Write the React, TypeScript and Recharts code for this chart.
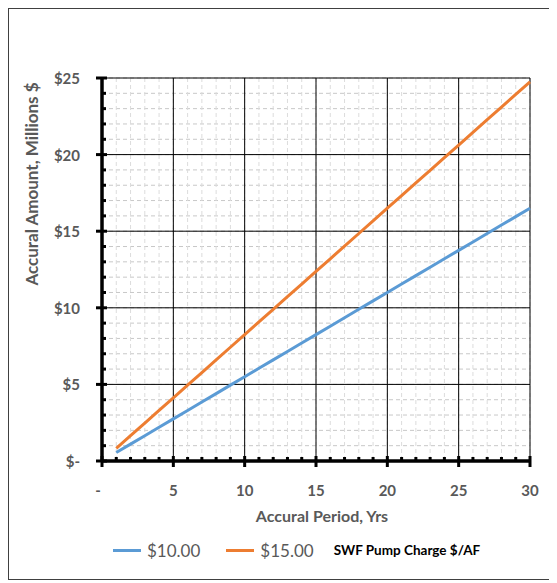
import React from 'react';
import { LineChart, Line, XAxis, YAxis, CartesianGrid, ReferenceLine } from 'recharts';

const years = [1, 2, 3, 4, 5, 6, 7, 8, 9, 10, 11, 12, 13, 14, 15, 16, 17, 18, 19, 20, 21, 22, 23, 24, 25, 26, 27, 28, 29, 30];
const series10 = [0.55, 1.1, 1.65, 2.2, 2.75, 3.3, 3.85, 4.4, 4.95, 5.5, 6.05, 6.6, 7.15, 7.7, 8.25, 8.8, 9.35, 9.9, 10.45, 11, 11.55, 12.1, 12.65, 13.2, 13.75, 14.3, 14.85, 15.4, 15.95, 16.5];
const series15 = [0.825, 1.65, 2.475, 3.3, 4.125, 4.95, 5.775, 6.6, 7.425, 8.25, 9.075, 9.9, 10.725, 11.55, 12.375, 13.2, 14.025, 14.85, 15.675, 16.5, 17.325, 18.15, 18.975, 19.8, 20.625, 21.45, 22.275, 23.1, 23.925, 24.75];
const xTicks = [0, 1, 2, 3, 4, 5, 6, 7, 8, 9, 10, 11, 12, 13, 14, 15, 16, 17, 18, 19, 20, 21, 22, 23, 24, 25, 26, 27, 28, 29, 30];
const yTicks = [0, 1, 2, 3, 4, 5, 6, 7, 8, 9, 10, 11, 12, 13, 14, 15, 16, 17, 18, 19, 20, 21, 22, 23, 24, 25];
const xMajor = [5, 10, 15, 20, 25, 30];
const yMajor = [5, 10, 15, 20, 25];
const seriesKeys = ['s10', 's15'];
const seriesNames = ['$10.00', '$15.00'];
const seriesColors = ['#5B9BD5', '#ED7D31'];
const legendTitle = 'SWF Pump Charge $/AF';
const xTitle = 'Accural Period, Yrs';
const yTitle = 'Accural Amount, Millions $';

const data = years.map((yr, i) => ({ year: yr, s10: series10[i], s15: series15[i] }));

const FONT = 'Lato, "Open Sans", sans-serif';
const GRAY = '#595959';

const XTick = (props: any) => {
  const { x, y, payload } = props;
  const v = payload.value;
  const major = v % 5 === 0;
  return (
    <g>
      {major ? (
        <line x1={x} x2={x} y1={y - 5} y2={y + 6} stroke="#000" strokeWidth={3} />
      ) : (
        <rect x={x - 1.5} y={y - 4} width={3} height={3} fill="#000" />
      )}
      {major && (
        <text x={v === 0 ? x - 4 : x} y={y + 29} textAnchor="middle" dominantBaseline="central"
          fontFamily={FONT} fontWeight={700} fontSize={15} fill={GRAY}>
          {v === 0 ? '-' : v}
        </text>
      )}
    </g>
  );
};

const YTick = (props: any) => {
  const { x, y, payload } = props;
  const v = payload.value;
  const major = v % 5 === 0;
  return (
    <g>
      {major ? (
        <line x1={x - 6} x2={x + 5} y1={y} y2={y} stroke="#000" strokeWidth={3} />
      ) : (
        <rect x={x + 1} y={y - 1.5} width={3} height={3} fill="#000" />
      )}
      {major && (
        <text x={x - 22} y={y} textAnchor="end" dominantBaseline="central"
          fontFamily={FONT} fontWeight={700} fontSize={15} fill={GRAY}>
          {v === 0 ? '$-' : '$' + v}
        </text>
      )}
    </g>
  );
};

export default function App() {
  return (
    <div style={{ position: 'relative', width: 545, height: 570, border: '1px solid #404040', background: '#fff' }}>
      <LineChart width={545} height={570} data={data} margin={{ top: 69, right: 24, bottom: 0, left: 0 }}>
        <CartesianGrid stroke="#c8c8c8" strokeDasharray="4 3" vertical={false} />
        <CartesianGrid stroke="#dcdcdc" strokeDasharray="4 3" horizontal={false} />
        {xMajor.map((v) => (
          <ReferenceLine key={'x' + v} x={v} stroke="#000" strokeWidth={1} />
        ))}
        {yMajor.map((v) => (
          <ReferenceLine key={'y' + v} y={v} stroke="#000" strokeWidth={1} />
        ))}
        <XAxis
          dataKey="year"
          type="number"
          domain={[0, 30]}
          ticks={xTicks}
          interval={0}
          height={118}
          tickSize={0}
          tickMargin={0}
          tickLine={false}
          axisLine={{ stroke: '#000', strokeWidth: 3.5 }}
          tick={<XTick />}
          label={{
            content: (p: any) => {
              const vb = p.viewBox;
              return (
                <text x={vb.x + vb.width / 2 + 6} y={vb.y + 54} textAnchor="middle" dominantBaseline="central"
                  fontFamily={FONT} fontWeight={700} fontSize={16} fill={GRAY}>
                  {xTitle}
                </text>
              );
            },
          }}
        />
        <YAxis
          type="number"
          domain={[0, 25]}
          ticks={yTicks}
          interval={0}
          width={93}
          tickSize={0}
          tickMargin={0}
          tickLine={false}
          axisLine={{ stroke: '#000', strokeWidth: 3.5 }}
          tick={<YTick />}
          label={{
            content: () => (
              <text x={22} y={175} transform="rotate(-90 22 175)" textAnchor="middle" dominantBaseline="central"
                fontFamily={FONT} fontWeight={700} fontSize={17} fill={GRAY}>
                {yTitle}
              </text>
            ),
          }}
        />
        {seriesKeys.map((k, i) => (
          <Line key={k} type="linear" dataKey={k} name={seriesNames[i]} stroke={seriesColors[i]}
            strokeWidth={3} dot={false} activeDot={false} isAnimationActive={false} />
        ))}
      </LineChart>
      <div style={{ position: 'absolute', left: 104, top: 531, height: 20, display: 'flex', alignItems: 'center', fontFamily: FONT }}>
        {seriesNames.map((n, i) => (
          <div key={n} style={{ display: 'flex', alignItems: 'center', marginRight: i === 0 ? 26 : 20 }}>
            <div style={{ width: 28, height: 3, background: seriesColors[i], marginRight: 6 }} />
            <span style={{ fontSize: 17, color: GRAY }}>{n}</span>
          </div>
        ))}
        <span style={{ fontSize: 13.5, fontWeight: 700, color: '#000' }}>{legendTitle}</span>
      </div>
    </div>
  );
}
